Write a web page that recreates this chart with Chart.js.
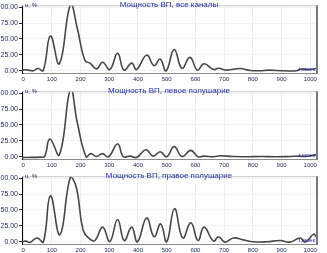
<!DOCTYPE html>
<html>
<head>
<meta charset="utf-8">
<script src="https://cdn.jsdelivr.net/npm/chart.js@4/dist/chart.umd.min.js"></script>
<style>
    html, body { margin: 0; padding: 0; background: #fff; overflow: hidden; }
    .panel { position: absolute; left: 0; width: 327px; height: 84px; }
</style>
</head>
<body>
<div class="panel" style="top:0"><canvas id="c1" width="327" height="84"></canvas></div>
<div class="panel" style="top:86px"><canvas id="c2" width="327" height="84"></canvas></div>
<div class="panel" style="top:171px"><canvas id="c3" width="327" height="84"></canvas></div>
<script>
// Data (time in ms, power in %)
const titles = ['Мощность ВП, все каналы', 'Мощность ВП, левое полушарие', 'Мощность ВП, правое полушарие'];
const xTicks = [0, 100, 200, 300, 400, 500, 600, 700, 800, 900, 1000];
const yTicks = [0, 25, 50, 75, 100];

const allT = [-4, 10, 25, 35, 52, 70, 95, 126, 165, 188, 215, 233, 256, 277, 302, 329, 351, 378, 395, 430, 456, 477, 498, 526, 553, 581, 607, 630, 663, 680, 709, 756, 790, 825, 855, 907, 953, 965, 1000, 1020];
const allU = [1, 1.5, 0.5, 0, 3.5, 0.5, 54.5, 11, 104, 68, 16, 12, 3, 13.5, 2, 27.5, 1, 12, 2, 24.5, 8, 18.5, 0, 33.5, 4, 21, 1, 11, 2, 4, 1, 3.5, 0.5, 0, 1, 0, 0, 2.5, 2, 3.5];

const leftT = [-4, 30, 60, 75, 93, 126, 165, 188, 219, 235, 256, 276, 297, 329, 349, 372, 395, 428, 453, 477, 500, 526, 553, 584, 609, 628, 663, 686, 730, 780, 830, 880, 930, 965, 985, 1020];
const leftU = [-1, -1, -0.5, 0.5, 28, 3, 106, 55, 0, 5, 0.5, 5, 0, 20, 0, 1, -1, 11, 1, 8, 0, 16, 0.5, 10, 0, 1, 0, 1.5, 0.5, 0, 0.5, 0, 0.5, 1, 0.5, 3];

const rightT = [-4, 10, 23, 49, 70, 95, 128, 165, 186, 209, 233, 250, 277, 302, 329, 352, 378, 398, 430, 456, 479, 500, 527, 556, 584, 609, 630, 663, 680, 703, 733, 767, 802, 849, 895, 930, 965, 983, 1012, 1020];
const rightU = [0, 1, -1, 6, -1, 72, 11, 102, 84, 18, 4, 2, 23, 0.5, 35, 2, 23, 0, 37.5, 8, 28, 0, 52, 6, 30, 2, 23, 1, 8, -0.5, 6, 3, 0, 0, 2, -0.5, 6, -0.5, 12, 8];

const series = [[allT, allU], [leftT, leftU], [rightT, rightU]];

const FONT = '"Liberation Sans", Arial, sans-serif';

// Frame, title and axis captions
const decor = {
    id: 'decor',
    afterDraw(chart, args, opts) {
        const ctx = chart.ctx;
        const a = chart.chartArea;
        ctx.save();
        ctx.strokeStyle = '#c8c8c8';
        ctx.lineWidth = 1;
        ctx.beginPath();
        ctx.moveTo(a.left, a.top + 0.5);
        ctx.lineTo(a.right, a.top + 0.5);
        ctx.stroke();
        ctx.strokeStyle = '#7a7a7a';
        ctx.lineWidth = 2;
        ctx.beginPath();
        ctx.moveTo(a.right + 1, a.top);
        ctx.lineTo(a.right + 1, a.bottom + 1);
        ctx.stroke();

        ctx.font = '8px ' + FONT;
        ctx.fillStyle = '#2233aa';
        ctx.textAlign = 'center';
        ctx.textBaseline = 'middle';
        ctx.fillText(opts.title, 169, 5);

        ctx.font = '6px ' + FONT;
        ctx.fillStyle = '#22285a';
        ctx.textAlign = 'left';
        ctx.fillText('u, %', a.left + 3, 5);

        ctx.fillStyle = '#2233aa';
        ctx.textAlign = 'right';
        ctx.fillText('t,мсек', a.right - 1, a.bottom - 4);
        ctx.restore();
    }
};

series.forEach(([t, u], i) => {
    const ctx = document.getElementById('c' + (i + 1)).getContext('2d');
    new Chart(ctx, {
        type: 'line',
        data: {
            datasets: [{
                data: t.map((x, k) => ({ x: x, y: u[k] })),
                borderColor: '#474747',
                borderWidth: 1.6,
                pointRadius: 0,
                tension: 0.45,
                fill: false
            }]
        },
        options: {
            responsive: false,
            animation: false,
            layout: { padding: { top: 2, right: 11, left: 0, bottom: 0 } },
            plugins: {
                legend: { display: false },
                tooltip: { enabled: false },
                decor: { title: titles[i] }
            },
            scales: {
                x: {
                    type: 'linear',
                    min: -4,
                    max: 1020,
                    afterBuildTicks: s => { s.ticks = xTicks.map(v => ({ value: v })); },
                    afterFit: s => { s.height = 11; },
                    grid: { color: '#eeeeee', tickLength: 2, drawTicks: true },
                    border: { color: '#8c8c8c', width: 1 },
                    ticks: {
                        color: '#22285a',
                        font: { size: 6, family: FONT },
                        padding: 1,
                        maxRotation: 0,
                        autoSkip: false,
                        callback: v => String(v)
                    }
                },
                y: {
                    min: -3.5,
                    max: 103,
                    afterBuildTicks: s => { s.ticks = yTicks.map(v => ({ value: v })); },
                    afterFit: s => { s.width = 22; },
                    grid: { color: '#f2f2f2', tickLength: 3, drawTicks: true, tickColor: '#22285a' },
                    border: { color: '#000', width: 1 },
                    ticks: {
                        color: '#22285a',
                        font: { size: 7, family: FONT },
                        padding: 1,
                        callback: v => v.toFixed(2)
                    }
                }
            }
        },
        plugins: [decor]
    });
});
</script>
</body>
</html>
